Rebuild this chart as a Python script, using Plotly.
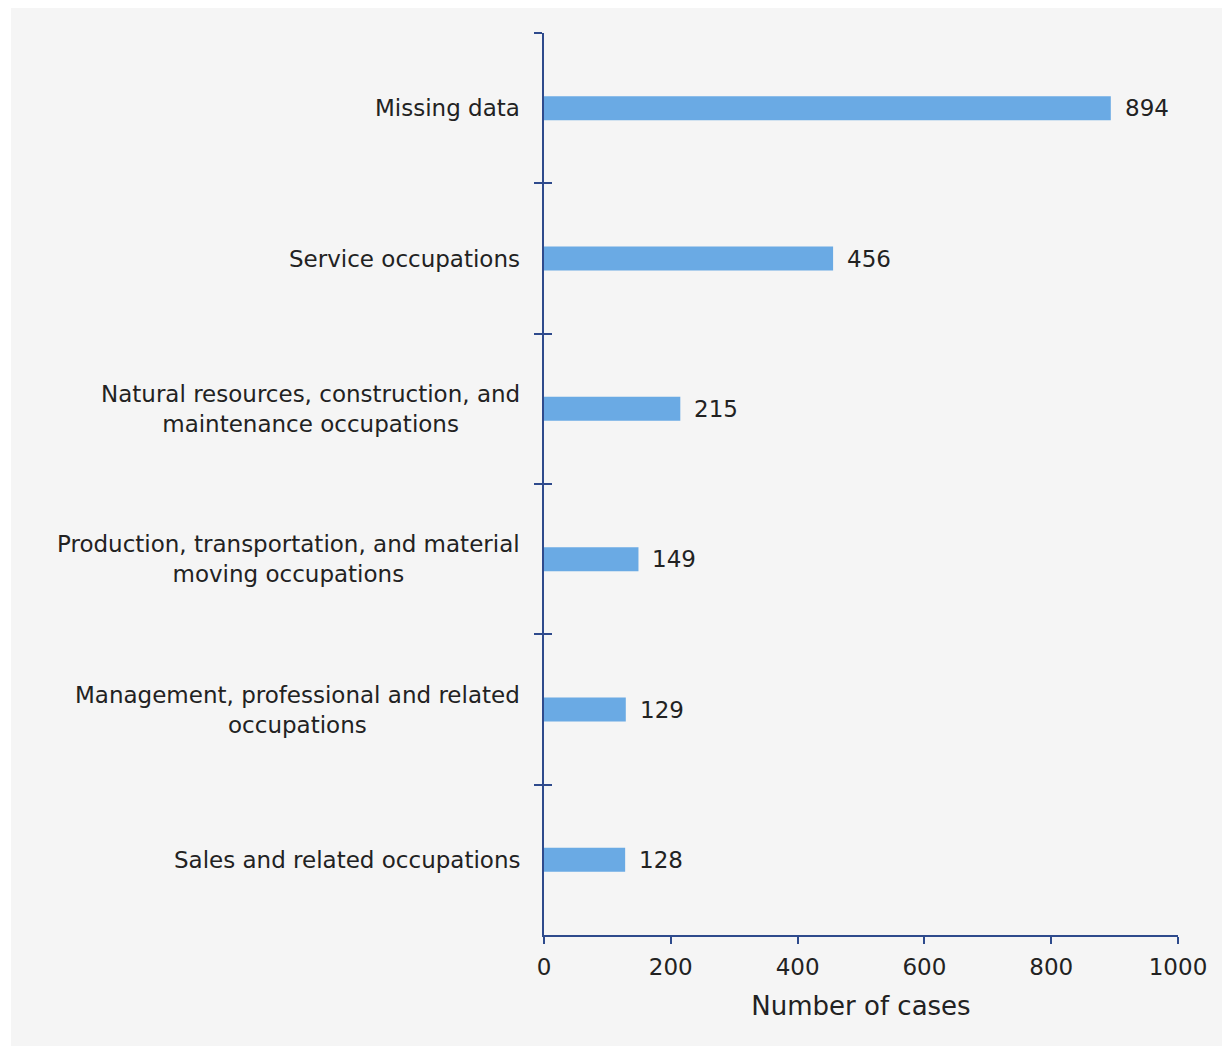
import plotly.graph_objects as go

# data
categories = [
    "Missing data",
    "Service occupations",
    "Natural resources, construction, and<br>maintenance occupations",
    "Production, transportation, and material<br>moving occupations",
    "Management, professional and related<br>occupations",
    "Sales and related occupations",
]
cases = [894, 456, 215, 149, 129, 128]
x_ticks = [0, 200, 400, 600, 800, 1000]

W, H = 1230, 1046
OFF = 8  # page margin of the browser
L, R, T, B = 544 - OFF, 52 + OFF, 33 - OFF, 111 + OFF
pw, ph = W - L - R, H - T - B

axis_col = "#2e4a8c"
txt_col = "#222222"
font = "DejaVu Sans, Verdana, sans-serif"
fs = 23

fig = go.Figure()
fig.add_trace(go.Bar(
    x=cases, y=categories, orientation="h",
    width=0.16,
    marker=dict(color="#6aaae4", line=dict(width=0)),
    hoverinfo="x+y",
))
# invisible trace on an overlay axis so the y ticks cross the axis line
fig.add_trace(go.Scatter(
    x=cases, y=categories, yaxis="y2", mode="markers",
    marker=dict(opacity=0), hoverinfo="skip", showlegend=False,
))

# value labels
for c, v in zip(categories, cases):
    fig.add_annotation(x=v, y=c, text=str(v), showarrow=False,
                       xanchor="left", xshift=12,
                       font=dict(family=font, size=fs, color=txt_col))

# category labels (centred lines, right-aligned block)
for c in categories:
    fig.add_annotation(x=0, xref="paper", y=c, text=c, showarrow=False,
                       xanchor="right", xshift=-22, align="center",
                       font=dict(family=font, size=fs, color=txt_col))

# grey panel with white strip at top/left
fig.add_shape(type="rect", xref="paper", yref="paper",
              x0=(11 - OFF - L) / pw, x1=(W + 20 - L) / pw,
              y0=-(H + 20 - T - ph) / ph, y1=1 + (T - (6 - OFF)) / ph,
              fillcolor="#f5f5f5", line=dict(width=0), layer="below")

yax = dict(
    type="category", categoryorder="array", categoryarray=categories,
    range=[5.5, -0.5], showticklabels=False, tickson="boundaries",
    showline=True, linecolor=axis_col, linewidth=2,
    tickcolor=axis_col, tickwidth=2, ticklen=8, showgrid=False, zeroline=False,
)
fig.update_layout(
    width=W, height=H,
    margin=dict(l=L, r=R, t=T, b=B),
    paper_bgcolor="white", plot_bgcolor="rgba(0,0,0,0)",
    showlegend=False,
    font=dict(family=font, size=fs, color=txt_col),
    xaxis=dict(
        range=[0, 1000], tickvals=x_ticks, ticks="outside", ticklen=7,
        tickcolor=axis_col, tickwidth=2, showline=True, linecolor=axis_col,
        linewidth=2, showgrid=False, zeroline=False, ticklabelstandoff=3,
        title=dict(text="Number of cases", standoff=18,
                   font=dict(family=font, size=26, color=txt_col)),
        tickfont=dict(family=font, size=fs, color=txt_col),
    ),
    yaxis=dict(ticks="outside", **yax),
    yaxis2=dict(overlaying="y", ticks="inside", side="left", **yax),
)

fig.write_html("out.html")
